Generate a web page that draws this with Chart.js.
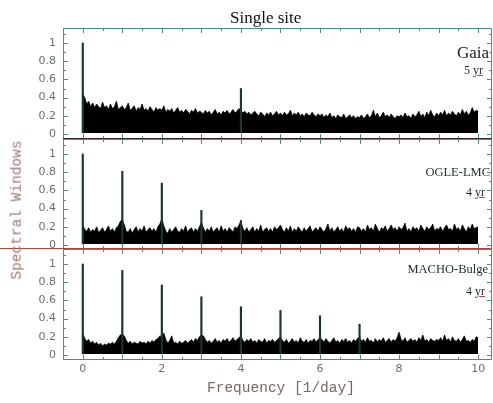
<!DOCTYPE html>
<html>
<head>
<meta charset="utf-8">
<script src="https://cdn.jsdelivr.net/npm/chart.js@4/dist/chart.umd.min.js"></script>
<style>
  body { margin: 0; background: #fff; }
  #wrap { position: relative; width: 493px; height: 403px; overflow: hidden; }
  .box { position: absolute; left: 0; width: 493px; }
  .lbl { position: absolute; white-space: nowrap; font-family: 'Liberation Serif', serif; color: #1d2b2b; line-height: 1; }
  .yr { text-decoration: underline; text-decoration-color: #d04040; }
</style>
</head>
<body>
<div id="wrap">
  <div class="box" style="top:0;height:140px"><canvas id="gaiaChart"></canvas></div>
  <div class="box" style="top:139px;height:111px"><canvas id="ogleChart"></canvas></div>
  <div class="box" style="top:249px;height:154px"><canvas id="machoChart"></canvas></div>

  <div class="lbl" style="left:230px;top:9px;font-size:17px;color:#111">Single site</div>
  <div class="lbl" style="right:4px;top:44px;font-size:17px;color:#222">Gaia</div>
  <div class="lbl" style="right:10px;top:64px;font-size:12px">5 <span class="yr">yr</span></div>
  <div class="lbl" style="right:3px;top:166px;font-size:12.5px">OGLE-LMC</div>
  <div class="lbl" style="right:8px;top:186px;font-size:12px">4 <span class="yr">yr</span></div>
  <div class="lbl" style="right:5px;top:263px;font-size:12.5px">MACHO-Bulge</div>
  <div class="lbl" style="right:8px;top:285px;font-size:12px">4 <span class="yr">yr</span></div>

  <div class="lbl" style="left:207px;top:381px;font-family:'Liberation Mono',monospace;font-size:14.5px;color:#7a6664">Frequency [1/day]</div>
  <div class="lbl" style="left:17px;top:210px;font-family:'Liberation Mono',monospace;font-size:14.5px;color:#a0756e;transform:translate(-50%,-50%) rotate(-90deg)">Spectral Windows</div>
</div>

<script>
// tick labels
const X_TICKS = [0, 2, 4, 6, 8, 10];
const Y_TICKS = [0, 0.2, 0.4, 0.6, 0.8, 1];

// upper edge of the noise band, one value every 0.05 /day from 0 to 10
const gaiaBand = [
  0.44, 0.40, 0.33, 0.36, 0.30, 0.34, 0.29, 0.33, 0.30, 0.28, 0.35, 0.29, 0.31, 0.27, 0.33, 0.28, 0.30, 0.36, 0.27, 0.29,
  0.31, 0.27, 0.29, 0.34, 0.26, 0.28, 0.31, 0.25, 0.29, 0.27, 0.33, 0.26, 0.28, 0.25, 0.30, 0.27, 0.24, 0.29, 0.26, 0.28,
  0.26, 0.31, 0.24, 0.27, 0.25, 0.28, 0.23, 0.26, 0.29, 0.24, 0.26, 0.23, 0.27, 0.25, 0.22, 0.26, 0.24, 0.28, 0.23, 0.25,
  0.24, 0.22, 0.26, 0.23, 0.25, 0.21, 0.24, 0.27, 0.22, 0.24, 0.21, 0.25, 0.23, 0.26, 0.22, 0.24, 0.27, 0.23, 0.25, 0.28,
  0.26, 0.23, 0.25, 0.22, 0.24, 0.21, 0.23, 0.25, 0.22, 0.20, 0.24, 0.22, 0.19, 0.23, 0.21, 0.24, 0.20, 0.22, 0.25, 0.21,
  0.23, 0.20, 0.24, 0.21, 0.22, 0.26, 0.20, 0.23, 0.21, 0.24, 0.20, 0.22, 0.19, 0.23, 0.21, 0.20, 0.24, 0.21, 0.19, 0.22,
  0.20, 0.22, 0.18, 0.21, 0.19, 0.23, 0.18, 0.20, 0.17, 0.21, 0.19, 0.18, 0.22, 0.17, 0.19, 0.21, 0.18, 0.20, 0.17, 0.19,
  0.18, 0.21, 0.17, 0.19, 0.22, 0.18, 0.20, 0.26, 0.19, 0.23, 0.18, 0.20, 0.24, 0.19, 0.21, 0.18, 0.22, 0.19, 0.17, 0.20,
  0.19, 0.21, 0.18, 0.23, 0.19, 0.20, 0.17, 0.22, 0.19, 0.21, 0.25, 0.19, 0.22, 0.18, 0.24, 0.20, 0.26, 0.21, 0.19, 0.23,
  0.20, 0.24, 0.21, 0.26, 0.20, 0.23, 0.21, 0.25, 0.22, 0.20, 0.24, 0.21, 0.27, 0.22, 0.25, 0.21, 0.23, 0.29, 0.24, 0.26, 0.25,
];
const ogleBand = [
  0.22, 0.17, 0.15, 0.19, 0.14, 0.17, 0.15, 0.20, 0.14, 0.16, 0.19, 0.14, 0.17, 0.21, 0.15, 0.18, 0.14, 0.19, 0.21, 0.26,
  0.28, 0.22, 0.15, 0.14, 0.18, 0.13, 0.17, 0.20, 0.14, 0.18, 0.15, 0.21, 0.14, 0.17, 0.19, 0.15, 0.18, 0.14, 0.20, 0.23,
  0.29, 0.21, 0.15, 0.13, 0.18, 0.14, 0.17, 0.20, 0.15, 0.14, 0.18, 0.15, 0.21, 0.14, 0.17, 0.19, 0.14, 0.18, 0.15, 0.20,
  0.25, 0.19, 0.14, 0.18, 0.15, 0.20, 0.14, 0.17, 0.19, 0.14, 0.21, 0.15, 0.18, 0.14, 0.19, 0.17, 0.14, 0.20, 0.18, 0.22,
  0.26, 0.18, 0.15, 0.19, 0.14, 0.17, 0.20, 0.14, 0.18, 0.15, 0.22, 0.14, 0.17, 0.19, 0.15, 0.18, 0.14, 0.20, 0.17, 0.19,
  0.22, 0.17, 0.14, 0.19, 0.15, 0.21, 0.14, 0.18, 0.15, 0.20, 0.17, 0.14, 0.19, 0.15, 0.18, 0.21, 0.14, 0.17, 0.19, 0.15,
  0.20, 0.17, 0.14, 0.18, 0.23, 0.15, 0.19, 0.14, 0.17, 0.20, 0.15, 0.18, 0.14, 0.21, 0.17, 0.19, 0.15, 0.18, 0.14, 0.20,
  0.19, 0.15, 0.18, 0.14, 0.22, 0.17, 0.19, 0.15, 0.23, 0.18, 0.14, 0.19, 0.17, 0.21, 0.15, 0.18, 0.22, 0.17, 0.19, 0.15,
  0.20, 0.17, 0.19, 0.24, 0.15, 0.18, 0.14, 0.20, 0.17, 0.19, 0.15, 0.22, 0.18, 0.15, 0.20, 0.17, 0.19, 0.23, 0.15, 0.18,
  0.17, 0.20, 0.15, 0.19, 0.22, 0.17, 0.18, 0.15, 0.23, 0.17, 0.19, 0.15, 0.22, 0.18, 0.14, 0.20, 0.17, 0.23, 0.18, 0.19, 0.20,
];
const machoBand = [
  0.24, 0.18, 0.15, 0.17, 0.13, 0.15, 0.12, 0.14, 0.11, 0.13, 0.10, 0.12, 0.11, 0.13, 0.12, 0.14, 0.12, 0.15, 0.19, 0.22,
  0.23, 0.21, 0.16, 0.13, 0.15, 0.12, 0.14, 0.13, 0.12, 0.15, 0.13, 0.14, 0.12, 0.15, 0.13, 0.16, 0.14, 0.17, 0.18, 0.21,
  0.20, 0.24, 0.17, 0.13, 0.16, 0.21, 0.13, 0.14, 0.12, 0.15, 0.13, 0.14, 0.16, 0.13, 0.15, 0.17, 0.14, 0.18, 0.16, 0.20,
  0.22, 0.21, 0.17, 0.14, 0.16, 0.13, 0.15, 0.18, 0.14, 0.16, 0.13, 0.17, 0.15, 0.18, 0.14, 0.16, 0.19, 0.15, 0.17, 0.19,
  0.21, 0.16, 0.14, 0.17, 0.15, 0.18, 0.14, 0.16, 0.13, 0.17, 0.15, 0.14, 0.18, 0.13, 0.16, 0.15, 0.17, 0.14, 0.16, 0.18,
  0.20, 0.16, 0.14, 0.17, 0.13, 0.15, 0.18, 0.14, 0.16, 0.13, 0.19, 0.15, 0.14, 0.17, 0.13, 0.16, 0.15, 0.18, 0.14, 0.17,
  0.19, 0.17, 0.14, 0.18, 0.15, 0.13, 0.16, 0.19, 0.14, 0.16, 0.13, 0.17, 0.15, 0.18, 0.14, 0.16, 0.13, 0.17, 0.15, 0.18,
  0.20, 0.15, 0.17, 0.14, 0.19, 0.15, 0.16, 0.13, 0.18, 0.14, 0.17, 0.15, 0.19, 0.14, 0.16, 0.18, 0.14, 0.17, 0.15, 0.19,
  0.25, 0.17, 0.15, 0.19, 0.14, 0.16, 0.18, 0.15, 0.17, 0.14, 0.19, 0.16, 0.22, 0.15, 0.17, 0.14, 0.18, 0.16, 0.15, 0.17,
  0.16, 0.19, 0.15, 0.22, 0.16, 0.18, 0.14, 0.20, 0.16, 0.15, 0.18, 0.14, 0.17, 0.21, 0.15, 0.16, 0.14, 0.17, 0.15, 0.20, 0.19,
];

// isolated alias peaks
const gaiaPeakFreq = [0, 4];
const gaiaPeakPower = [1.0, 0.5];
const oglePeakFreq = [0, 1, 2, 3, 4];
const oglePeakPower = [1.0, 0.81, 0.68, 0.38, 0.27];
const machoPeakFreq = [0, 1, 2, 3, 4, 5, 6, 7];
const machoPeakPower = [1.0, 0.93, 0.77, 0.64, 0.53, 0.49, 0.43, 0.34];

const BAND_SPAN = 10;
const BAND_FLOOR = 0.012;
const FRAME_COLOR = '#4f8a8a';

const framePlugin = {
  id: 'frame',
  afterDatasetsDraw(chart, args, opts) {
    const { ctx, chartArea: a } = chart;
    const { x, y } = chart.scales;
    ctx.save();
    ctx.lineWidth = 1;
    ctx.strokeStyle = FRAME_COLOR;
    ctx.beginPath();
    // inward ticks, every 0.5 on x and 0.1 on y
    for (let k = -1; k <= 20; k += 1) {
      const px = Math.round(x.getPixelForValue(k / 2)) + 0.5;
      const len = k % 2 === 0 ? 5 : 3;
      ctx.moveTo(px, a.top);
      ctx.lineTo(px, a.top + len);
      ctx.moveTo(px, a.bottom);
      ctx.lineTo(px, a.bottom - len);
    }
    for (let k = 0; k <= 11; k += 1) {
      const py = Math.round(y.getPixelForValue(k / 10)) + 0.5;
      const len = k % 2 === 0 ? 5 : 3;
      ctx.moveTo(a.left, py);
      ctx.lineTo(a.left + len, py);
      ctx.moveTo(a.right, py);
      ctx.lineTo(a.right - len, py);
    }
    ctx.stroke();
    ctx.beginPath();
    ctx.moveTo(a.left + 0.5, a.bottom);
    ctx.lineTo(a.left + 0.5, a.top + 0.5);
    ctx.lineTo(a.right - 0.5, a.top + 0.5);
    ctx.lineTo(a.right - 0.5, a.bottom);
    ctx.stroke();
    ctx.strokeStyle = opts.bottomColor || FRAME_COLOR;
    ctx.beginPath();
    ctx.moveTo(a.left - (opts.bottomExtend || 0), a.bottom - 0.5);
    ctx.lineTo(a.right, a.bottom - 0.5);
    ctx.stroke();
    ctx.restore();
  },
};

const makePanel = (id, band, peakFreq, peakPower, panel) => {
  const step = BAND_SPAN / (band.length - 1);
  const ctx = document.getElementById(id).getContext('2d');
  // eslint-disable-next-line no-undef
  return new Chart(ctx, {
    type: 'line',
    data: {
      datasets: [
        {
          type: 'bar',
          data: peakFreq.map((f, i) => ({ x: f, y: [BAND_FLOOR, peakPower[i]] })),
          backgroundColor: '#1c3434',
          barThickness: 1.5,
          grouped: false,
          order: 1,
        },
        {
          data: band.map((v, i) => ({ x: i * step, y: v })),
          borderColor: '#000',
          borderWidth: 0.8,
          backgroundColor: '#000',
          fill: { value: BAND_FLOOR },
          pointRadius: 0,
          tension: 0,
          order: 2,
        },
      ],
    },
    options: {
      responsive: true,
      maintainAspectRatio: false,
      animation: false,
      layout: { padding: { top: panel.padTop, right: 1, bottom: panel.padBottom, left: 0 } },
      plugins: {
        legend: { display: false },
        tooltip: { enabled: false },
        frame: { bottomColor: panel.bottomColor, bottomExtend: panel.bottomExtend },
      },
      scales: {
        x: {
          type: 'linear',
          min: -0.5,
          max: 10.35,
          offset: false,
          display: panel.showX,
          grid: { display: false, drawTicks: false },
          border: { display: false },
          afterBuildTicks: (scale) => { scale.ticks = X_TICKS.map((value) => ({ value })); },
          afterFit: (scale) => {
            scale.height = panel.showX ? 43 : 0;
            scale.paddingLeft = 0;
            scale.paddingRight = 0;
          },
          ticks: {
            autoSkip: false,
            maxRotation: 0,
            padding: 3,
            color: '#66716f',
            font: { family: 'DejaVu Sans', size: 11 },
            callback: (value) => String(value),
          },
        },
        y: {
          min: panel.yMin,
          max: 1.165,
          grid: { display: false, drawTicks: false },
          border: { display: false },
          afterBuildTicks: (scale) => { scale.ticks = Y_TICKS.map((value) => ({ value })); },
          afterFit: (scale) => {
            scale.width = 63;
            scale.paddingTop = 0;
            scale.paddingBottom = 0;
          },
          ticks: {
            autoSkip: false,
            padding: 7,
            color: '#66716f',
            font: { family: 'DejaVu Sans', size: 11 },
            callback: (value) => String(value),
          },
        },
      },
    },
    plugins: [framePlugin],
  });
};

makePanel('gaiaChart', gaiaBand, gaiaPeakFreq, gaiaPeakPower, {
  padTop: 28, padBottom: 1, showX: false, yMin: -0.055, bottomColor: '#3a2a2a', bottomExtend: 0,
});
makePanel('ogleChart', ogleBand, oglePeakFreq, oglePeakPower, {
  padTop: 0, padBottom: 1, showX: false, yMin: -0.044, bottomColor: '#c23a3a', bottomExtend: 63,
});
makePanel('machoChart', machoBand, machoPeakFreq, machoPeakPower, {
  padTop: 0, padBottom: 0, showX: true, yMin: -0.055, bottomColor: FRAME_COLOR, bottomExtend: 0,
});
</script>
</body>
</html>
